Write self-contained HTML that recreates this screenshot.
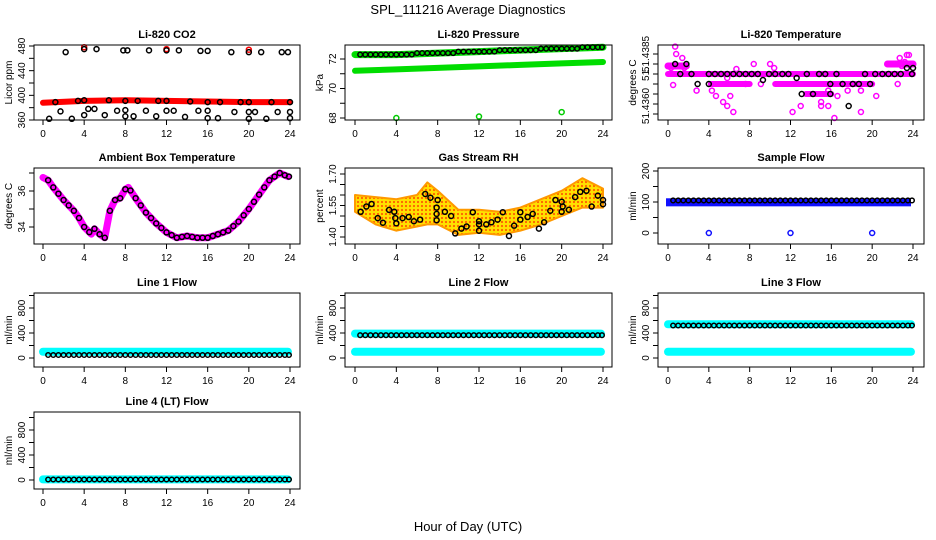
<!DOCTYPE html>
<html><head><meta charset="utf-8">
<style>
html,body{margin:0;padding:0;background:#fff;}
svg{display:block;font-family:"Liberation Sans",sans-serif;}
</style></head>
<body>
<svg id="chart" width="936" height="540" viewBox="0 0 936 540">
<defs>
<pattern id="rhpat" width="4" height="4" patternUnits="userSpaceOnUse">
<rect width="4" height="4" fill="#ffe000"/>
<circle cx="2" cy="2" r="1.1" fill="#ff6000"/>
</pattern>
</defs>
<text x="468" y="14" text-anchor="middle" font-size="13">SPL_111216  Average Diagnostics</text>
<text x="468" y="531" text-anchor="middle" font-size="13">Hour of Day (UTC)</text>
</svg>
<script>
// ---------- data ----------
const xTicks = [0,4,8,12,16,20,24];
const flowHours = [0.5,1,1.5,2,2.5,3,3.5,4,4.5,5,5.5,6,6.5,7,7.5,8,8.5,9,9.5,10,10.5,11,11.5,12,12.5,13,13.5,14,14.5,15,15.5,16,16.5,17,17.5,18,18.5,19,19.5,20,20.5,21,21.5,22,22.5,23,23.5,23.9];

const co2RedH = [0,4,8,12,16,20,24];
const co2RedV = [388,391,392,391,390,389,389];
const co2RedHighH = [4,12,20];
const co2RedHighV = [478,475,474];
const co2HighH = [2.2,4,5.2,7.8,8.2,10.3,12,13.2,15.3,16,18.3,20,21.2,23.2,23.8];
const co2HighV = [470,475,475,473,473,473,473,473,472,472,470,470,470,470,470];
const co2MidH = [1.2,3.4,4,6.4,8,9.2,11.2,12,14.3,16,17.2,19.2,20,22.2,24];
const co2MidV = [389,391,392,392,391,391,391,391,390,389,389,389,389,389,389];
const co2LowH = [0.6,1.7,2.8,4,4.4,5,6,7.2,8,8,8.8,10,11,12,12.7,13.8,15.1,16,16,17,18.6,20,20,20.6,21.7,22.8,24,24];
const co2LowV = [362,374,362,368,378,378,368,375,376,366,366,375,366,375,375,365,375,375,363,363,373,362,373,373,362,373,373,363];

const presH = [0,4,8,12,16,20,24];
const presUpper = [72.3,72.3,72.4,72.5,72.6,72.7,72.8];
const presLower = [71.2,71.3,71.4,71.5,71.6,71.7,71.8];
const presOutH = [4,12,20];
const presOutV = [68.0,68.1,68.4];

const tempBandH1 = [0,4.2,10.5,13.5];
const tempBandH2 = [24,8,20,16];
const tempBandV = [51.4375,51.4370,51.4370,51.4365];
const tempMagH = [0.7,0.8,1.4,0.5,2.8,4.3,4.7,5.4,5.8,6.4,5.8,6.7,6.1,7.6,8.4,9.1,10,10.4,12.2,13,15,15.7,15,15.7,16.3,16.6,17.6,18.9,18.9,20.4,21.7,22.5,22.7,23.4,23.6,24,0.3,0.9,1.6,22.9,23.2,23.8];
const tempMagV = [51.43887,51.4385,51.4383,51.43695,51.43667,51.43667,51.4364,51.4361,51.4359,51.4356,51.4373,51.43775,51.4364,51.4370,51.4380,51.4370,51.4380,51.4378,51.4356,51.4359,51.4359,51.4359,51.4361,51.43667,51.4353,51.4364,51.43667,51.4356,51.43667,51.4364,51.4380,51.4370,51.4383,51.43845,51.43845,51.4380,51.4378,51.4379,51.4378,51.4379,51.4381,51.4380];
const tempBlkH = [0.7,1.2,1.8,2.3,2.9,4,4,4.6,5.2,5.8,6.4,7,7.6,8.2,8.8,9.3,9.9,10.5,11.2,11.8,12.6,13.1,13.6,14.2,14.8,15.4,15.9,15.9,16.5,17.1,17.7,18.1,18.7,19.3,19.8,20.3,21,21.6,22.2,22.8,23.4,23.9,24];
const tempBlkV = [51.4380,51.4375,51.4380,51.4375,51.4370,51.4370,51.4375,51.4375,51.4375,51.4375,51.4375,51.4375,51.4375,51.4375,51.4375,51.4372,51.4375,51.4375,51.4375,51.4375,51.4373,51.4365,51.4375,51.4365,51.4375,51.4375,51.4365,51.4370,51.4375,51.4370,51.4359,51.4370,51.4370,51.4375,51.4370,51.4375,51.4375,51.4375,51.4375,51.4375,51.4378,51.4375,51.4378];

const ambH = [0,0.5,1,2,3,3.5,4,4.7,5,5.5,6,6.5,7,7.5,8,8.3,9,10,11,12,13,14,15,16,17,18,19,20,21,22,23,23.8];
const ambV = [36.75,36.6,36.2,35.5,34.9,34.5,34.0,33.6,33.9,33.6,33.4,34.9,35.5,35.6,36.1,36.2,35.6,34.8,34.2,33.7,33.4,33.5,33.4,33.4,33.6,33.8,34.3,35.0,35.8,36.6,37.0,36.8];

const rhBandH = [0,2,4,6,7,8,10,12,14,16,18,20,22,24];
const rhUpper = [1.60,1.59,1.58,1.60,1.66,1.62,1.53,1.53,1.52,1.54,1.58,1.62,1.68,1.63];
const rhLower = [1.52,1.46,1.43,1.45,1.46,1.46,1.41,1.42,1.41,1.43,1.46,1.50,1.54,1.54];
const rhBlkH = [0.55,1.1,1.6,2.2,2.7,3.3,3.8,3.9,4.0,4.6,5.2,5.7,6.3,6.8,7.3,8.0,7.9,7.9,7.9,8.7,9.3,9.7,10.3,10.8,11.4,12,12,12,12.7,13.2,13.8,14.3,14.9,15.4,16,16,16.7,17.2,17.8,18.3,18.9,19.4,20,20,20.1,20.7,21.3,21.8,22.4,22.9,23.5,24,24];
const rhBlkV = [1.52,1.545,1.557,1.49,1.468,1.529,1.52,1.49,1.465,1.49,1.495,1.475,1.483,1.605,1.587,1.576,1.54,1.51,1.48,1.52,1.50,1.417,1.44,1.45,1.518,1.475,1.43,1.46,1.46,1.47,1.483,1.518,1.405,1.454,1.483,1.518,1.495,1.51,1.44,1.47,1.525,1.576,1.52,1.568,1.545,1.53,1.59,1.615,1.62,1.545,1.597,1.556,1.576];

const sampBandTop = 112, sampBandBot = 86, sampBlack = 105;
const sampOutH = [4,12,20];
const sampOutV = [0,0,0];

const line1Cyan = [100], line1Black = 48;
const line2Cyan = [390,100], line2Black = 365;
const line3Cyan = [540,100], line3Black = 520;
const line4Cyan = [10], line4Black = 8;

// ---------- drawing ----------
const svg = document.getElementById('chart');
const NS = 'http://www.w3.org/2000/svg';
function mk(tag, attrs, parent){const e=document.createElementNS(NS,tag);for(const k in attrs)e.setAttribute(k,attrs[k]);(parent||svg).appendChild(e);return e;}

const cols = [{l:34,r:300,x0:43,x24:290},{l:345,r:612,x0:355,x24:603},{l:658,r:924,x0:668,x24:913}];
const rows = [{t:45,b:120},{t:168,b:244},{t:293,b:367},{t:412,b:489}];

function panel(name,title,ci,ri,yref,yticks,ylabels,ylab){
  const c=cols[ci], r=rows[ri];
  const g=mk('g',{});
  
  
  const sx=h=>c.x0+(h/24)*(c.x24-c.x0);
  const sy=v=>yref[1]+(v-yref[0])*(yref[3]-yref[1])/(yref[2]-yref[0]);
  const plot=mk('g',{},g);
  
  
  const t=mk('text',{x:(c.l+c.r)/2,y:r.t-7,'text-anchor':'middle','font-size':'11','font-weight':'bold'},g);
  t.textContent=title;
  
  
  const frame=mk('rect',{x:c.l,y:r.t,width:c.r-c.l,height:r.b-r.t,fill:'none',stroke:'#000','stroke-width':1},g);
  
  
  const xa=mk('g',{},g);
  
  
  mk('line',{x1:sx(0),x2:sx(24),y1:r.b,y2:r.b,stroke:'#000'},xa);
  xTicks.forEach(h=>{
    mk('line',{x1:sx(h),x2:sx(h),y1:r.b,y2:r.b+5,stroke:'#000'},xa);
    const tl=mk('text',{x:sx(h),y:r.b+17,'text-anchor':'middle','font-size':'10'},xa);
    tl.textContent=h;
    
    
  });
  const ya=mk('g',{},g);
  
  
  yticks.forEach(v=>{
    const y=sy(v);
    mk('line',{x1:c.l-5,x2:c.l,y1:y,y2:y,stroke:'#000'},ya);
  });
  ylabels.forEach(([v,txt])=>{
    const y=sy(v);
    const tl=mk('text',{x:c.l-9,y:y,'text-anchor':'middle','font-size':'10',transform:`rotate(-90 ${c.l-9} ${y})`},ya);
    tl.textContent=txt;
    
    
  });
  const yt=mk('text',{x:c.l-22,y:(r.t+r.b)/2,'text-anchor':'middle','font-size':'10',transform:`rotate(-90 ${c.l-22} ${(r.t+r.b)/2})`},g);
  yt.textContent=ylab;
  
  
  return {g:plot,sx,sy};
}
function pts(p,H,V,color,nm,rad){
  H.forEach((h,i)=>{
    const e=mk('circle',{cx:p.sx(h),cy:p.sy(V[i]),r:rad||2.5,fill:'none',stroke:color,'stroke-width':1.5},p.g);
    
    
  });
}
function band(p,H,V,color,w,nm){
  const d=H.map((h,i)=>(i?'L':'M')+p.sx(h)+','+p.sy(V[i])).join(' ');
  const e=mk('path',{d:d,fill:'none',stroke:color,'stroke-width':w,'stroke-linecap':'round','stroke-linejoin':'round'},p.g);
  
  
}

// CO2
let p=panel('co2','Li-820 CO2',0,0,[360,120,480,46],[360,380,400,420,440,460,480],[[360,'360'],[400,'400'],[440,'440'],[480,'480']],'Licor ppm');
band(p,co2RedH,co2RedV,'#ff0000',6,'co2-red-series');
pts(p,co2RedHighH,co2RedHighV,'#ff0000','co2-red-point');
pts(p,co2HighH,co2HighV,'#000','co2-black-point');
pts(p,co2MidH,co2MidV,'#000','co2-black-point');
pts(p,co2LowH,co2LowV,'#000','co2-black-point');

// Pressure
p=panel('pressure','Li-820 Pressure',1,0,[68,118,72,59],[68,69,70,71,72],[[68,'68'],[70,'70'],[72,'72']],'kPa');
band(p,presH,presUpper,'#00dd00',7,'pressure-upper-green');
band(p,presH,presLower,'#00dd00',6,'pressure-lower-green');
pts(p,flowHours,flowHours.map(h=>presUpper[Math.min(6,Math.round(h/4))]),'#000','pressure-black-point',2.3);
pts(p,presOutH,presOutV,'#00cc00','pressure-outlier');

// Temperature
p=panel('li820-temp','Li-820 Temperature',2,0,[51.4385,54,51.4365,94],[51.4355,51.4360,51.4365,51.4370,51.4375,51.4380,51.4385],[[51.4385,'51.4385'],[51.4375,'51.'],[51.4359,'51.4360']],'degrees C');
tempBandV.forEach((v,i)=>band(p,[tempBandH1[i],tempBandH2[i]],[v,v],'#ff00ff',6,'temp-magenta-band'));
band(p,[0,1.8],[51.4379,51.4379],'#ff00ff',7,'temp-magenta-band');
band(p,[21.5,24],[51.4380,51.4380],'#ff00ff',7,'temp-magenta-band');
pts(p,tempMagH,tempMagV,'#ff00ff','temp-magenta-point');
pts(p,tempBlkH,tempBlkV,'#000','temp-black-point');

// Ambient
p=panel('ambient','Ambient Box Temperature',0,1,[34,227,36,191],[34,35,36,37],[[34,'34'],[36,'36']],'degrees C');
band(p,ambH,ambV,'#ff00ff',7,'ambient-magenta-line');
pts(p,flowHours,flowHours.map(h=>{let i=0;while(i<ambH.length-1&&ambH[i+1]<h)i++;const a=ambH[i],b=ambH[Math.min(i+1,ambH.length-1)];const t=b>a?(h-a)/(b-a):0;return ambV[i]+t*(ambV[Math.min(i+1,ambV.length-1)]-ambV[i]);}),'#000','ambient-black-point');

// RH
p=panel('rh','Gas Stream RH',1,1,[1.40,237,1.70,174],[1.40,1.45,1.50,1.55,1.60,1.65,1.70],[[1.40,'1.40'],[1.55,'1.55'],[1.70,'1.70']],'percent');
{
  const d='M'+rhBandH.map((h,i)=>p.sx(h)+','+p.sy(rhUpper[i])).join(' L')+' L'+rhBandH.slice().reverse().map((h,i)=>p.sx(h)+','+p.sy(rhLower[rhLower.length-1-i])).join(' L')+'Z';
  const e=mk('path',{d:d,fill:'url(#rhpat)',stroke:'#ff9900','stroke-width':2,'stroke-linejoin':'round'},p.g);
  
  
}
pts(p,rhBlkH,rhBlkV,'#000','rh-black-point');

// Sample Flow
p=panel('sample-flow','Sample Flow',2,1,[0,233,200,171],[0,50,100,150,200],[[0,'0'],[100,'100'],[200,'200']],'ml/min');
{
  const e=mk('rect',{x:p.sx(0)-2,y:p.sy(sampBandTop),width:p.sx(24)-p.sx(0),height:p.sy(sampBandBot)-p.sy(sampBandTop),fill:'#1010ff'},p.g);
  
  
}
pts(p,flowHours,flowHours.map(()=>sampBlack),'#000','sample-flow-black-point',2.3);
pts(p,sampOutH,sampOutV,'#1010ff','sample-flow-outlier');

// Line flows
function linePanel(nm,title,ci,ri,cyan,black){
  const off=rows[ri].b-10;
  const p=panel(nm,title,ci,ri,[0,off+1,400,off-24],[0,200,400,600,800,1000],[[0,'0'],[400,'400'],[800,'800']],'ml/min');
  cyan.forEach(v=>band(p,[0,23.8],[v,v],'#00ffff',8,nm+'-cyan-series'));
  pts(p,flowHours,flowHours.map(()=>black),'#000',nm+'-black-point',2.3);
}
linePanel('line1-flow','Line 1 Flow',0,2,line1Cyan,line1Black);
linePanel('line2-flow','Line 2 Flow',1,2,line2Cyan,line2Black);
linePanel('line3-flow','Line 3 Flow',2,2,line3Cyan,line3Black);
linePanel('line4-flow','Line 4 (LT) Flow',0,3,line4Cyan,line4Black);
</script>
</body></html>
